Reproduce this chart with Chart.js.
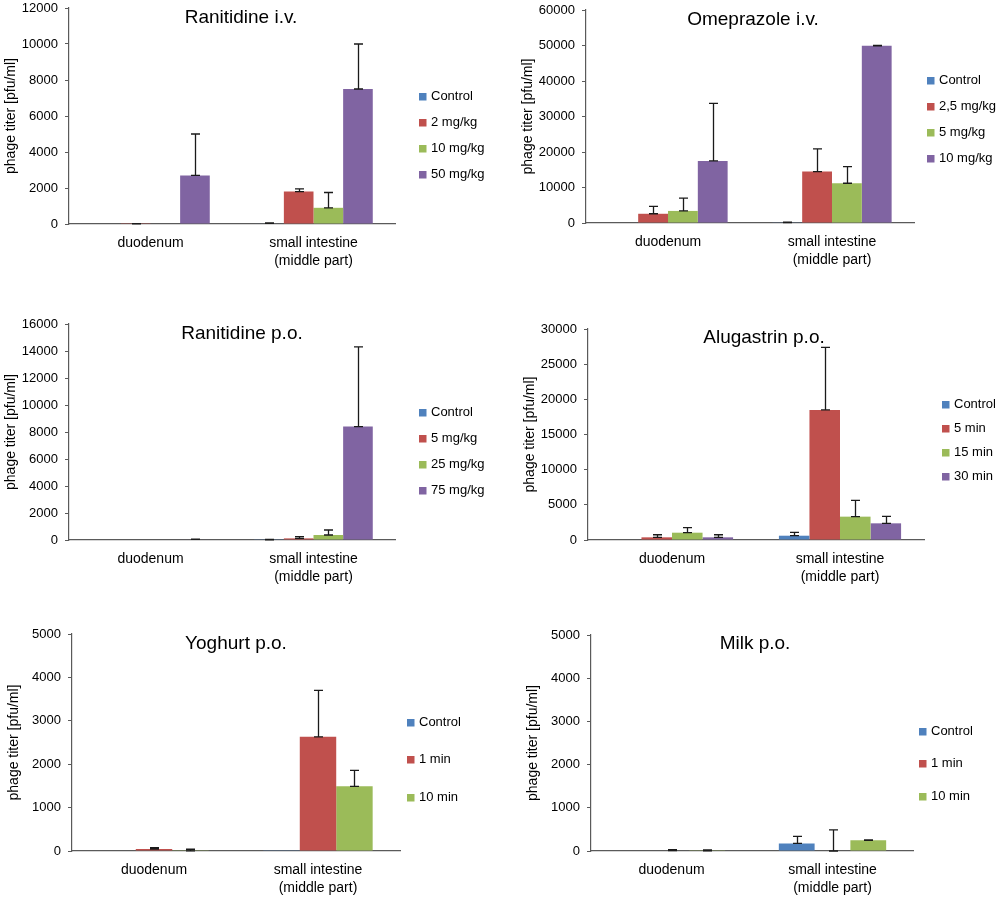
<!DOCTYPE html>
<html><head><meta charset="utf-8">
<script src="https://cdn.jsdelivr.net/npm/chart.js@4.4.1/dist/chart.umd.min.js"></script>
<style>
html,body{margin:0;padding:0;background:#fff;}
body{width:1000px;height:901px;position:relative;overflow:hidden;}
.pn{position:absolute;}
canvas{display:block;}
</style></head>
<body>
<div class="pn" style="left:0;top:0"><canvas id="c1"></canvas></div>
<div class="pn" style="left:500px;top:0"><canvas id="c2"></canvas></div>
<div class="pn" style="left:0;top:300px"><canvas id="c3"></canvas></div>
<div class="pn" style="left:500px;top:300px"><canvas id="c4"></canvas></div>
<div class="pn" style="left:0;top:600px"><canvas id="c5"></canvas></div>
<div class="pn" style="left:500px;top:600px"><canvas id="c6"></canvas></div>
<script>
// ---------- DATA ----------
const categories = [['duodenum'], ['small intestine', '(middle part)']];
const yTitle = 'phage titer [pfu/ml]';
const seriesColors = ['#4F81BD', '#C0504D', '#9BBB59', '#8064A2'];

// Ranitidine i.v.
const ranIvLabels = ['Control', '2 mg/kg', '10 mg/kg', '50 mg/kg'];
const ranIvControl = [0, 30];
const ranIv2 = [10, 1800];
const ranIv10 = [0, 900];
const ranIv50 = [2700, 7500];
const ranIvControlErr = [0, 30];
const ranIv2Err = [10, 150];
const ranIv10Err = [0, 850];
const ranIv50Err = [2300, 2500];
const ranIvTicks = [0, 2000, 4000, 6000, 8000, 10000, 12000];

// Omeprazole i.v.
const omeLabels = ['Control', '2,5 mg/kg', '5 mg/kg', '10 mg/kg'];
const omeControl = [0, 100];
const ome25 = [2600, 14500];
const ome5 = [3400, 11200];
const ome10 = [17500, 49900];
const omeControlErr = [0, 150];
const ome25Err = [2100, 6400];
const ome5Err = [3600, 4700];
const ome10Err = [16200, 100];
const omeTicks = [0, 10000, 20000, 30000, 40000, 50000, 60000];

// Ranitidine p.o.
const ranPoLabels = ['Control', '5 mg/kg', '25 mg/kg', '75 mg/kg'];
const ranPoControl = [0, 20];
const ranPo5 = [0, 120];
const ranPo25 = [0, 370];
const ranPo75 = [40, 8400];
const ranPoControlErr = [0, 30];
const ranPo5Err = [0, 130];
const ranPo25Err = [0, 370];
const ranPo75Err = [30, 5900];
const ranPoTicks = [0, 2000, 4000, 6000, 8000, 10000, 12000, 14000, 16000];

// Alugastrin p.o.
const aluLabels = ['Control', '5 min', '15 min', '30 min'];
const aluControl = [0, 610];
const alu5 = [380, 18500];
const alu15 = [1040, 3320];
const alu30 = [380, 2370];
const aluControlErr = [0, 480];
const alu5Err = [370, 8900];
const alu15Err = [710, 2320];
const alu30Err = [370, 990];
const aluTicks = [0, 5000, 10000, 15000, 20000, 25000, 30000];

// Yoghurt p.o.
const yogLabels = ['Control', '1 min', '10 min'];
const yogControl = [0, 5];
const yog1 = [45, 2630];
const yog10 = [5, 1490];
const yogControlErr = [0, 0];
const yog1Err = [30, 1070];
const yog10Err = [35, 370];
const yogTicks = [0, 1000, 2000, 3000, 4000, 5000];

// Milk p.o.
const milkLabels = ['Control', '1 min', '10 min'];
const milkControl = [0, 175];
const milk1 = [10, 0];
const milk10 = [5, 246];
const milkControlErr = [0, 165];
const milk1Err = [20, 490];
const milk10Err = [20, 10];
const milkTicks = [0, 1000, 2000, 3000, 4000, 5000];

// ---------- RENDERING ----------
const FONT = "'Liberation Sans', Arial, sans-serif";
Chart.defaults.font.family = FONT;
Chart.defaults.color = '#000';

const errorBars = {
  id: 'errorBars',
  afterDatasetsDraw(chart, args, o) {
    const ctx = chart.ctx, y = chart.scales.y;
    ctx.save();
    ctx.strokeStyle = '#1a1a1a';
    ctx.lineWidth = 1.3;
    chart.data.datasets.forEach((ds, i) => {
      if (!ds.errors) return;
      chart.getDatasetMeta(i).data.forEach((bar, j) => {
        const e = ds.errors[j];
        if (!e) return;
        const v = ds.data[j];
        const x = Math.round(bar.x) + 0.5;
        const y0 = y.getPixelForValue(v), y1 = y.getPixelForValue(v + e);
        const c = 4.5;
        ctx.beginPath();
        ctx.moveTo(x, y0); ctx.lineTo(x, y1);
        ctx.moveTo(x - c, y1); ctx.lineTo(x + c, y1);
        ctx.moveTo(x - c, y0); ctx.lineTo(x + c, y0);
        ctx.stroke();
      });
    });
    ctx.restore();
  }
};

const panelDecor = {
  id: 'panelDecor',
  afterDraw(chart, args, o) {
    const ctx = chart.ctx;
    ctx.save();
    ctx.fillStyle = '#000';
    ctx.font = '19px ' + FONT;
    ctx.textAlign = 'center';
    ctx.textBaseline = 'alphabetic';
    ctx.fillText(o.title, o.titleX, o.titleY);
    ctx.font = '13px ' + FONT;
    ctx.textAlign = 'left';
    ctx.textBaseline = 'middle';
    chart.data.datasets.forEach((ds, i) => {
      const yc = o.legY + i * o.legGap;
      ctx.fillStyle = ds.backgroundColor;
      ctx.fillRect(o.legX, Math.round(yc - 3.5), 7.5, 7.5);
      ctx.fillStyle = '#000';
      ctx.fillText(ds.label, o.legX + 12, yc);
    });
    ctx.restore();
  }
};

function makePanel(id, title, labels, series, errors, ticks, g) {
  const canvas = document.getElementById(id);
  canvas.width = 500; canvas.height = g.h;
  canvas.style.width = '500px'; canvas.style.height = g.h + 'px';
  const n = series.length;
  const datasets = series.map((d, i) => ({
    label: labels[i],
    data: d,
    errors: errors[i],
    backgroundColor: seriesColors[i],
    borderWidth: 0,
    categoryPercentage: n / (n + 1.5),
    barPercentage: 1
  }));
  new Chart(canvas, {
    type: 'bar',
    data: { labels: categories, datasets },
    options: {
      responsive: false,
      animation: false,
      layout: { padding: { left: g.pl, top: g.pt, right: g.pr, bottom: 0 } },
      plugins: {
        legend: { display: false },
        tooltip: { enabled: false },
        title: { display: false },
        panelDecor: { title, titleX: g.tx, titleY: g.ty, legX: g.lx, legY: g.ly, legGap: g.lg }
      },
      scales: {
        x: {
          grid: { display: false, drawTicks: false },
          border: { display: true, color: '#5a5a5a', width: 1.2 },
          ticks: { font: { size: 14, lineHeight: 1.3 }, padding: 10, maxRotation: 0, autoSkip: false, color: '#000' },
          afterFit(s) { s.height = 50; s.paddingLeft = 0; s.paddingRight = 0; }
        },
        y: {
          min: ticks[0], max: ticks[ticks.length - 1],
          afterBuildTicks(s) { s.ticks = ticks.map(v => ({ value: v })); },
          grid: { display: true, drawOnChartArea: false, drawTicks: true, tickLength: 4, color: '#5a5a5a' },
          border: { display: true, color: '#5a5a5a', width: 1.2 },
          ticks: { font: { size: 13 }, padding: 7, color: '#000', callback: v => String(v) },
          title: { display: true, text: yTitle, font: { size: 14 }, padding: { top: 3, bottom: 0 }, color: '#000' },
          afterFit(s) { s.width = 69; s.paddingTop = 0; s.paddingBottom = 0; }
        }
      }
    },
    plugins: [errorBars, panelDecor]
  });
}

makePanel('c1', 'Ranitidine i.v.', ranIvLabels,
  [ranIvControl, ranIv2, ranIv10, ranIv50],
  [ranIvControlErr, ranIv2Err, ranIv10Err, ranIv50Err], ranIvTicks,
  { h: 274, pl: 0, pt: 8, pr: 105, tx: 241, ty: 23, lx: 419, ly: 96, lg: 26 });

makePanel('c2', 'Omeprazole i.v.', omeLabels,
  [omeControl, ome25, ome5, ome10],
  [omeControlErr, ome25Err, ome5Err, ome10Err], omeTicks,
  { h: 273, pl: 17, pt: 10, pr: 86, tx: 253, ty: 25, lx: 427, ly: 80, lg: 26 });

makePanel('c3', 'Ranitidine p.o.', ranPoLabels,
  [ranPoControl, ranPo5, ranPo25, ranPo75],
  [ranPoControlErr, ranPo5Err, ranPo25Err, ranPo75Err], ranPoTicks,
  { h: 290, pl: 0, pt: 24, pr: 105, tx: 242, ty: 39, lx: 419, ly: 112, lg: 26 });

makePanel('c4', 'Alugastrin p.o.', aluLabels,
  [aluControl, alu5, alu15, alu30],
  [aluControlErr, alu5Err, alu15Err, alu30Err], aluTicks,
  { h: 290, pl: 19, pt: 29, pr: 76, tx: 264, ty: 43, lx: 442, ly: 104, lg: 24 });

makePanel('c5', 'Yoghurt p.o.', yogLabels,
  [yogControl, yog1, yog10],
  [yogControlErr, yog1Err, yog10Err], yogTicks,
  { h: 301, pl: 3, pt: 34, pr: 100, tx: 236, ty: 49, lx: 407, ly: 122, lg: 37.5 });

makePanel('c6', 'Milk p.o.', milkLabels,
  [milkControl, milk1, milk10],
  [milkControlErr, milk1Err, milk10Err], milkTicks,
  { h: 301, pl: 22, pt: 35, pr: 87, tx: 255, ty: 49, lx: 419, ly: 131, lg: 32.5 });
</script>
</body></html>
